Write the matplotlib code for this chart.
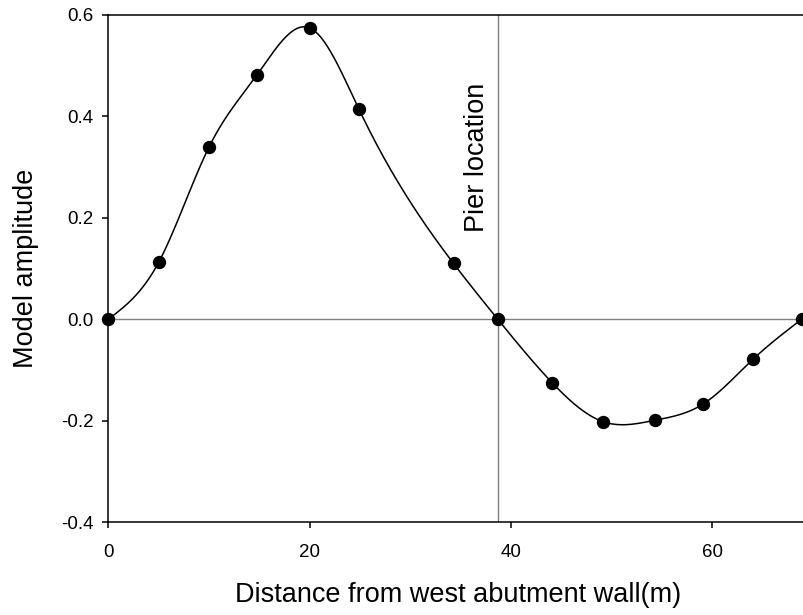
import numpy as np
import matplotlib
matplotlib.use('Agg')
import matplotlib.pyplot as plt

plt.rcParams['font.family'] = ['Liberation Sans', 'DejaVu Sans']
plt.rcParams['axes.unicode_minus'] = False

# mode shape samples
distance = [0, 5.0, 10.0, 14.8, 20.0, 24.9, 34.3, 38.7, 44.1, 49.2, 54.3, 59.1, 64.1, 68.9]
amplitude = [0, 0.112, 0.339, 0.482, 0.574, 0.414, 0.110, 0, -0.125, -0.202, -0.199, -0.167, -0.078, 0]
pier_x = 38.7
x_ticks = [0, 20, 40, 60]
y_ticks = [-0.4, -0.2, 0.0, 0.2, 0.4, 0.6]


def natural_spline(x, y, n=600):
    # plain natural cubic spline, used only to draw the smooth line through the samples
    x = np.asarray(x, float)
    y = np.asarray(y, float)
    h = np.diff(x)
    m = len(x)
    A = np.zeros((m, m))
    r = np.zeros(m)
    A[0, 0] = A[-1, -1] = 1
    for i in range(1, m - 1):
        A[i, i - 1] = h[i - 1]
        A[i, i] = 2 * (h[i - 1] + h[i])
        A[i, i + 1] = h[i]
        r[i] = 3 * ((y[i + 1] - y[i]) / h[i] - (y[i] - y[i - 1]) / h[i - 1])
    c = np.linalg.solve(A, r)
    xs = np.linspace(x[0], x[-1], n)
    idx = np.clip(np.searchsorted(x, xs) - 1, 0, m - 2)
    dx = xs - x[idx]
    b = (y[1:] - y[:-1]) / h - h * (2 * c[:-1] + c[1:]) / 3
    d = (c[1:] - c[:-1]) / (3 * h)
    ys = y[idx] + b[idx] * dx + c[idx] * dx ** 2 + d[idx] * dx ** 3
    return xs, ys


fig = plt.figure(figsize=(8.04, 6.15), dpi=100)
ax = fig.add_axes([0.1347, 0.1507, 0.870, 0.8254])

ax.axhline(0, color='#808080', lw=1.0, zorder=1)
ax.axvline(pier_x, color='#808080', lw=1.0, zorder=1)

xs, ys = natural_spline(distance, amplitude)
ax.plot(xs, ys, color='black', lw=1.1, zorder=2)
ax.plot(distance, amplitude, 'o', color='black', ms=8.6, zorder=3, clip_on=False)

ax.text(36.6, 0.172, 'Pier location', rotation=90, ha='center', va='bottom', fontsize=19.5)

ax.set_xlim(0, 69.5)
ax.set_ylim(-0.4, 0.6)
ax.set_xticks(x_ticks)
ax.set_yticks(y_ticks)
ax.set_yticklabels(['%.1f' % v for v in y_ticks])
ax.spines['right'].set_visible(False)
for s in ['left', 'bottom', 'top']:
    ax.spines[s].set_linewidth(1.1)
ax.tick_params(direction='out', length=4.4, width=1.1, labelsize=13.5)
ax.tick_params(axis='x', top=False, pad=11)
ax.tick_params(axis='y', pad=6)

ax.set_xlabel('Distance from west abutment wall(m)', fontsize=19.5, labelpad=15)
ax.set_ylabel('Model amplitude', fontsize=19.5, labelpad=16)

fig.savefig('out.png', dpi=100)
